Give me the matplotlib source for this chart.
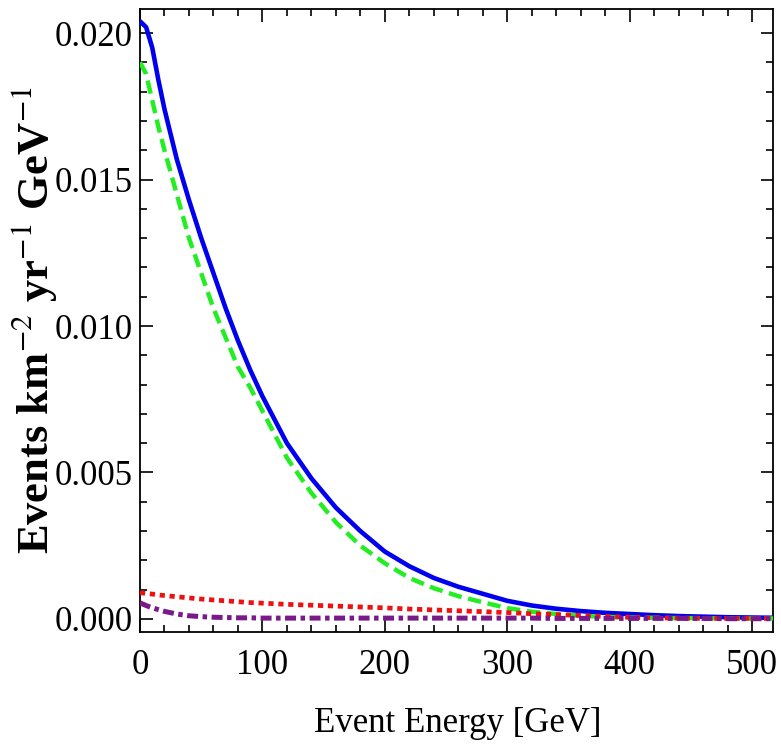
import numpy as np
import matplotlib
matplotlib.use("Agg")
import matplotlib.pyplot as plt
from matplotlib.ticker import MultipleLocator

# event energy grid [GeV]
energy = [0, 5, 10, 15, 20, 30, 40, 50, 60, 70, 80, 90, 100, 120, 140, 160, 180, 200, 220,
          240, 260, 280, 300, 320, 340, 360, 380, 400, 420, 440, 460, 480, 500, 520]

# rates [events km^-2 yr^-1 GeV^-1]
total = [0.0204, 0.0202, 0.0195, 0.0184, 0.0174, 0.0157, 0.0143, 0.0130, 0.0118, 0.0106,
         0.0095, 0.0085, 0.0076, 0.0060, 0.0048, 0.0038, 0.0030, 0.0023, 0.0018, 0.0014,
         0.0011, 0.00086, 0.00062, 0.00046, 0.00035, 0.00027, 0.00021, 0.00017, 0.00013,
         0.00010, 0.00008, 0.00006, 0.00005, 0.00004]
green = [0.0190, 0.0186, 0.0177, 0.0168, 0.0160, 0.0145, 0.0130, 0.0118, 0.0106, 0.0096,
         0.0086, 0.0079, 0.0071, 0.0055, 0.0043, 0.0033, 0.0025, 0.0019, 0.0014, 0.00105,
         0.00078, 0.00057, 0.00037, 0.00025, 0.00017, 0.00011, 0.00007, 0.00005, 0.00004,
         0.00003, 0.00003, 0.00002, 0.00002, 0.00002]
red = [0.00090, 0.00087, 0.00085, 0.00082, 0.00080, 0.00076, 0.00072, 0.00068, 0.00065,
       0.00062, 0.00059, 0.00056, 0.00054, 0.00050, 0.00047, 0.00044, 0.00041, 0.00038,
       0.00034, 0.00031, 0.00028, 0.00025, 0.00022, 0.00018, 0.00015, 0.00012, 0.00009,
       0.00006, 0.00004, 0.00003, 0.00002, 0.00002, 0.00002, 0.00002]
purple = [0.00055, 0.00046, 0.00038, 0.00032, 0.00026, 0.00017, 0.00011, 0.00008, 0.00006,
          0.00005, 0.00004, 0.00004, 0.00003, 0.00003, 0.00003, 0.00003, 0.00003, 0.00003,
          0.00003, 0.00003, 0.00003, 0.00003, 0.00003, 0.00003, 0.00002, 0.00002, 0.00002,
          0.00002, 0.00002, 0.00002, 0.00002, 0.00001, 0.00001, 0.00001]

plt.rcParams['font.family'] = ['Liberation Serif', 'DejaVu Serif']
plt.rcParams['mathtext.fontset'] = 'stix'

fig = plt.figure(figsize=(7.81, 7.52), dpi=100)
ax = fig.add_axes([140 / 781, 120 / 752, 633 / 781, 623 / 752])

ax.plot(energy, total, color='#0000ee', lw=3.3, solid_capstyle='round', zorder=3)
ax.plot(energy, green, color='#22ee22', lw=3.2, dashes=(3.0, 1.5), zorder=4)
ax.plot(energy, red, color='#ee1111', lw=3.4, dashes=(1.1, 1.0), zorder=5)
ax.plot(energy, purple, color='#7a1a8a', lw=3.6, dashes=(2.2, 0.9, 0.9, 0.9), zorder=6)

ax.set_xlim(0, 517)
ax.set_ylim(-0.000444, 0.02082)

ax.xaxis.set_major_locator(MultipleLocator(100))
ax.xaxis.set_minor_locator(MultipleLocator(20))
ax.yaxis.set_major_locator(MultipleLocator(0.005))
ax.yaxis.set_minor_locator(MultipleLocator(0.001))
ax.yaxis.set_major_formatter(plt.FuncFormatter(lambda v, p: f"{v:.3f}"))

ax.tick_params(which='both', direction='in', top=True, right=True, width=1.2)
ax.tick_params(which='major', length=9, labelsize=25)
ax.tick_params(which='minor', length=5)
ax.tick_params(axis='x', pad=12)
ax.tick_params(axis='y', pad=5)
for s in ax.spines.values():
    s.set_linewidth(1.3)

# x label placed in figure pixels so it sits well below the tick labels
fig.text(458 / 781, 1 - 724 / 752, 'Event Energy [GeV]', fontsize=25,
         ha='center', va='center')
ax.set_ylabel(r'Events km$^{-2}$ yr$^{-1}$ GeV$^{-1}$', fontsize=32,
              fontweight='bold', va='center')
ax.yaxis.set_label_coords(-0.168, 0.50)

fig.savefig('out.png', dpi=100)
